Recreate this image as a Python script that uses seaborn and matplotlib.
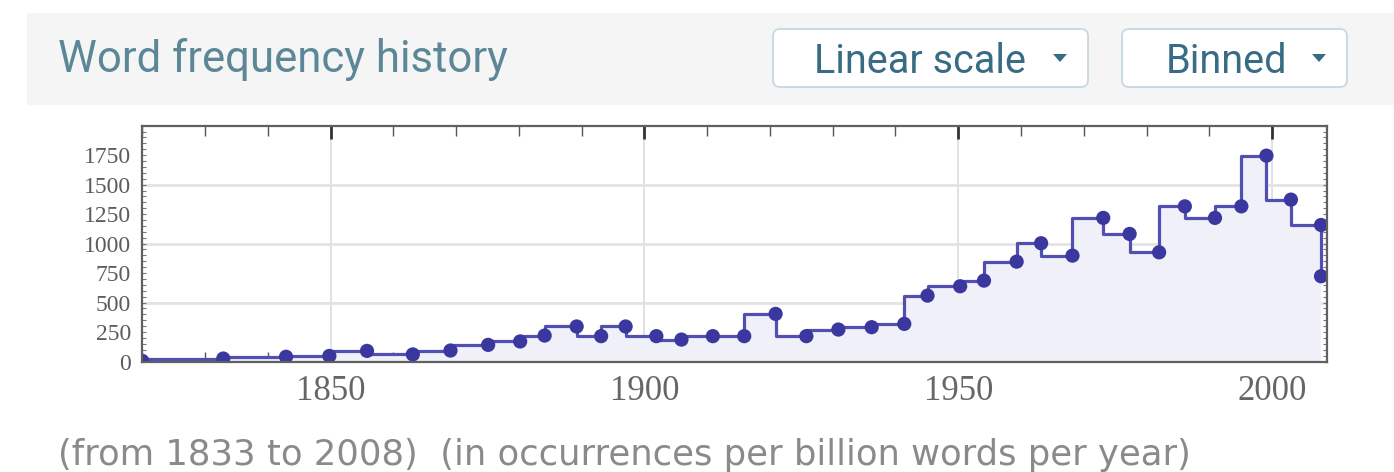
import matplotlib
matplotlib.use("Agg")
import matplotlib.pyplot as plt
from matplotlib.patches import Rectangle, FancyBboxPatch, Polygon
from matplotlib.ticker import MultipleLocator, FixedLocator, FuncFormatter
import pandas as pd
import seaborn as sns

# Binned frequency per bin end-year (occurrences per billion words per year)
years = [1820.0, 1832.9, 1842.9, 1849.8, 1855.8, 1863.1, 1869.1, 1875.1, 1880.2,
         1884.1, 1889.2, 1893.1, 1897.0, 1901.9, 1905.9, 1910.9, 1915.9, 1920.9,
         1925.8, 1930.9, 1936.2, 1941.4, 1945.1, 1950.3, 1954.1, 1959.3, 1963.2,
         1968.2, 1973.1, 1977.3, 1982.0, 1986.1, 1990.9, 1995.1, 1999.1, 2003.0,
         2007.8, 2007.8]
freq = [5, 25, 40, 47, 90, 60, 93, 141, 170,
        220, 297, 215, 297, 215, 186, 215, 215, 404,
        215, 271, 291, 319, 559, 638, 686, 847, 1003,
        898, 1218, 1082, 926, 1316, 1218, 1316, 1746, 1373,
        1158, 723]

x_labels = [1850, 1900, 1950, 2000]
y_labels = [0, 250, 500, 750, 1000, 1250, 1500, 1750]
y_grid = [500, 1000, 1500]

title = "Word frequency history"
scale_choice = "Linear scale"
bin_choice = "Binned"
footnote = "(from 1833 to 2008)  (in occurrences per billion words per year)"

df = pd.DataFrame({"year": years, "freq": freq})

sns.set_style("white")
plt.rcParams["font.family"] = ["DejaVu Sans"]

W, H = 1394, 472
fig = plt.figure(figsize=(W / 100, H / 100), dpi=100)
fig.patch.set_facecolor("white")

def px_box(x0, y0, x1, y1):
    return [x0 / W, 1 - y1 / H, (x1 - x0) / W, (y1 - y0) / H]

# Header band
fig.add_artist(Rectangle((27 / W, 1 - 105 / H), 1 - 27 / W, 92 / H,
                         transform=fig.transFigure, facecolor="#f5f5f5",
                         edgecolor="none", zorder=0))
fig.text(58 / W, 1 - 72 / H, title, family="Roboto", fontsize=31.5,
         color="#5b8797", ha="left", va="baseline")

# Dropdown buttons
for (x0, x1, label, tx0) in [(773, 1088, scale_choice, 814),
                              (1122, 1347, bin_choice, 1166)]:
    box = FancyBboxPatch((x0 / 100, (H - 87) / 100), (x1 - x0) / 100, 0.58,
                         boxstyle="round,pad=0,rounding_size=0.07",
                         transform=fig.dpi_scale_trans, facecolor="white",
                         edgecolor="#c6d8e0", linewidth=1.3, zorder=1)
    fig.add_artist(box)
    fig.text(tx0 / W, 1 - 73 / H, label, family="Roboto", fontsize=28.5,
             color="#386c85", ha="left", va="baseline", zorder=2)
    cx = x1 - 28
    tri = Polygon([((cx - 7) / 100, (H - 54) / 100), ((cx + 7) / 100, (H - 54) / 100),
                   (cx / 100, (H - 62) / 100)], closed=True,
                  transform=fig.dpi_scale_trans, facecolor="#386c85",
                  edgecolor="none", zorder=2)
    fig.add_artist(tri)

# Chart
ax = fig.add_axes(px_box(142.3, 125.7, 1326.7, 361.5))
ax.set_facecolor("white")

ax.fill_between(df["year"], df["freq"], step="pre", color="#f0f0f8",
                linewidth=0, zorder=1)
sns.lineplot(data=df, x="year", y="freq", ax=ax, estimator=None, sort=False,
             drawstyle="steps-pre", color="#5150b2", linewidth=2.3, zorder=3)
sns.scatterplot(data=df, x="year", y="freq", ax=ax, color="#3a389f", s=105,
                edgecolor="none", zorder=4)

ax.set_xlim(1820, 2008.7)
ax.set_ylim(0, 2000)
ax.set_xlabel("")
ax.set_ylabel("")

ax.xaxis.set_major_locator(FixedLocator(x_labels))
ax.xaxis.set_minor_locator(MultipleLocator(10))
ax.yaxis.set_major_locator(FixedLocator(y_labels))
ax.yaxis.set_minor_locator(MultipleLocator(50))
ax.yaxis.set_major_formatter(FuncFormatter(lambda v, p: f"{int(v)}"))

ax.grid(False)
for gx in x_labels:
    ax.axvline(gx, color="#dcdcdc", linewidth=1.2, zorder=0.5)
for gy in y_grid:
    ax.axhline(gy, color="#e3e3e3", linewidth=2.0, zorder=0.5)

for s in ax.spines.values():
    s.set_color("#606060")
    s.set_linewidth(1.6)
    s.set_zorder(5)

ax.tick_params(axis="x", which="major", direction="in", top=True, bottom=True,
               length=9, width=2.0, color="#333333", pad=10,
               labelsize=25, labelcolor="#666666")
ax.tick_params(axis="x", which="minor", direction="in", top=True, bottom=True,
               length=7, width=1.0, color="#555555")
ax.tick_params(axis="y", which="both", direction="in", left=True, right=True,
               length=3, width=0.8, color="#777777", pad=8,
               labelsize=17, labelcolor="#5c5c5c")
for lab in ax.get_xticklabels() + ax.get_yticklabels():
    lab.set_family("Liberation Serif")

fig.text(58 / W, 1 - 465 / H, footnote, family="DejaVu Sans", fontsize=25.5,
         color="#8a8a8a", ha="left", va="baseline")

fig.savefig("out.png", dpi=100)
